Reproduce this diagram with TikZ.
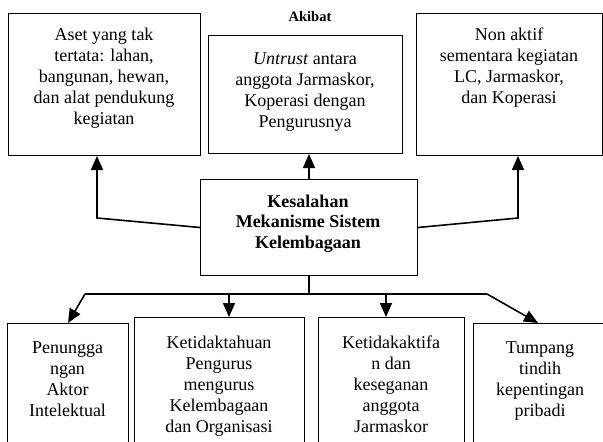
\documentclass[tikz,border=0pt]{standalone}
\usepackage{fontspec}
\setmainfont{Liberation Serif}
\usetikzlibrary{arrows.meta}
\tikzset{
  boxnode/.style={draw, line width=1pt, inner sep=0pt, anchor=north west},
  txt/.style={inner sep=0pt, anchor=north, align=center, font=\fontsize{18}{21}\selectfont},
  btxt/.style={txt, font=\fontsize{18}{20.5}\selectfont\bfseries},
  conn/.style={line width=1.6pt},
  arr/.style={line width=1.6pt, -{Triangle[length=14pt,width=12pt]}}
}
\begin{document}
\begin{tikzpicture}[x=1pt,y=-1pt]
\useasboundingbox (0,0) rectangle (603,442);
% top boxes
\node[boxnode, minimum width=192pt, minimum height=142pt] (A) at (8,13) {};
\node[boxnode, minimum width=194pt, minimum height=118pt] (B) at (208,35) {};
\node[boxnode, minimum width=186pt, minimum height=142pt] (C) at (416,13) {};
\node[font=\fontsize{14.5}{16}\selectfont\bfseries, inner sep=0pt, anchor=base] (akibat) at (310,21.5) {Akibat};
\node[txt] (At) at (104,27.5) {Aset yang tak\\tertata: lahan,\\bangunan, hewan,\\dan alat pendukung\\kegiatan};
\node[txt] (Bt) at (305,52.5) {\textit{Untrust} antara\\anggota Jarmaskor,\\Koperasi dengan\\Pengurusnya};
\node[txt] (Ct) at (509,27.5) {Non aktif\\sementara kegiatan\\LC, Jarmaskor,\\dan Koperasi};
% center box
\node[boxnode, minimum width=217pt, minimum height=96pt] (K) at (200,179) {};
\node[btxt] (Kt) at (308,194.5) {Kesalahan\\Mekanisme Sistem\\Kelembagaan};
% bottom boxes
\node[boxnode, minimum width=121pt, minimum height=140pt] (D1) at (7,323) {};
\node[boxnode, minimum width=170pt, minimum height=146pt] (D2) at (134,317) {};
\node[boxnode, minimum width=146pt, minimum height=146pt] (D3) at (318,317) {};
\node[boxnode, minimum width=134pt, minimum height=140pt] (D4) at (473,323) {};
\node[txt] (D1t) at (67.5,341.5) {Penungga\\ngan\\Aktor\\Intelektual};
\node[txt] (D2t) at (219,335.5) {Ketidaktahuan\\Pengurus\\mengurus\\Kelembagaan\\dan Organisasi};
\node[txt] (D3t) at (391,335.5) {Ketidakaktifa\\n dan\\keseganan\\anggota\\Jarmaskor};
\node[txt] (D4t) at (540,341.5) {Tumpang\\tindih\\kepentingan\\pribadi};
% connectors
\coordinate (jl) at (97,218);
\coordinate (jr) at (518,218);
\coordinate (hl) at (85,294);
\coordinate (hr) at (487,294);
\coordinate (h2) at (229,294);
\coordinate (h3) at (386,294);
\coordinate (e4) at (538,323);
\draw[arr] (K.west) -- (jl) -- (jl |- A.south);
\draw[arr] (K.north) -- (K.north |- B.south);
\draw[arr] (K.east) -- (jr) -- (jr |- C.south);
\draw[conn] (K.south) -- (K.south |- hl);
\draw[conn] (hl) -- (hr);
\draw[arr] (hl) -- (D1.north);
\draw[arr] (h2) -- (h2 |- D2.north);
\draw[arr] (h3) -- (h3 |- D3.north);
\draw[arr] (hr) -- (e4);
\end{tikzpicture}
\end{document}
